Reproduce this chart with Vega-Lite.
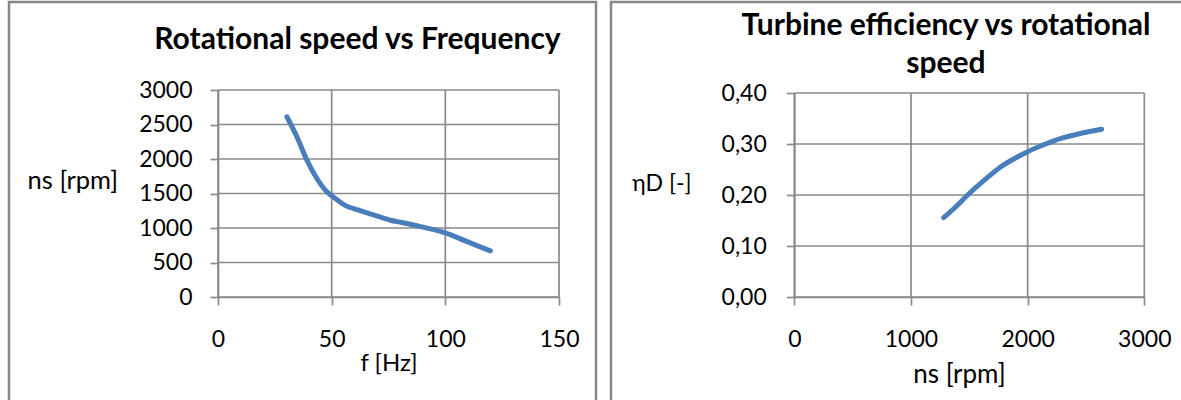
{
  "$schema": "https://vega.github.io/schema/vega-lite/v6.json",
  "padding": {"left": 7, "top": 0, "right": 0, "bottom": 0},
  "background": "white",
  "spacing": 11,
  "config": {
    "font": "Lato",
    "view": {"stroke": "#878787", "strokeWidth": 2.5, "fill": "white"},
    "axis": {
      "grid": false,
      "labelFlush": false,
      "labelOverlap": false,
      "labelFont": "Lato",
      "labelFontSize": 23,
      "labelColor": "#000000",
      "titleFont": "Lato",
      "titleFontSize": 25,
      "titleFontWeight": "normal",
      "titleColor": "#000000",
      "domainColor": "#8a8a8a",
      "domainWidth": 1.7,
      "tickColor": "#8a8a8a",
      "tickWidth": 1.7,
      "tickSize": 8
    },
    "title": {"font": "Lato", "fontSize": 30, "fontWeight": "bold", "color": "#000000"}
  },
  "hconcat": [
    {
      "width": 587,
      "height": 410,
      "title": {
        "text": "Rotational speed vs Frequency",
        "frame": "group",
        "anchor": "middle",
        "baseline": "alphabetic",
        "offset": -77,
        "dx": 55
      },
      "layer": [
        {
          "data": {"values": [{"f": 0}, {"f": 50}, {"f": 100}, {"f": 150}]},
          "mark": {"type": "rule", "color": "#8a8a8a", "strokeWidth": 1.7},
          "encoding": {
            "x": {
              "field": "f",
              "type": "quantitative",
              "scale": {"domain": [0, 150], "range": [209, 550], "nice": false},
              "axis": {
                "title": "f [Hz]",
                "titleFontSize": 24,
                "values": [0, 50, 100, 150],
                "format": "d",
                "offset": -115,
                "labelPadding": 23,
                "titlePadding": 0
              }
            },
            "y": {
              "datum": 0,
              "type": "quantitative",
              "scale": {"domain": [0, 3000], "range": [295, 88], "nice": false},
              "axis": {
                "title": "ns [rpm]",
                "titleFontSize": 25.5,
                "values": [0, 500, 1000, 1500, 2000, 2500, 3000],
                "format": "d",
                "offset": -209,
                "labelPadding": 18,
                "titleAngle": 0,
                "titleBaseline": "bottom",
                "titleAlign": "right",
                "titlePadding": 21
              }
            },
            "y2": {"datum": 3000}
          }
        },
        {
          "data": {"values": [{"ns": 0}, {"ns": 500}, {"ns": 1000}, {"ns": 1500}, {"ns": 2000}, {"ns": 2500}, {"ns": 3000}]},
          "mark": {"type": "rule", "color": "#8a8a8a", "strokeWidth": 1.7},
          "encoding": {
            "y": {"field": "ns", "type": "quantitative"},
            "x": {"datum": 0, "type": "quantitative"},
            "x2": {"datum": 150}
          }
        },
        {
          "data": {
            "values": [
              {"f": 30.3, "ns": 2612},
              {"f": 34.7, "ns": 2322},
              {"f": 39.1, "ns": 1984},
              {"f": 43.5, "ns": 1718},
              {"f": 47.9, "ns": 1524},
              {"f": 51.6, "ns": 1428},
              {"f": 55.7, "ns": 1331},
              {"f": 61.9, "ns": 1258},
              {"f": 67.7, "ns": 1196},
              {"f": 75.8, "ns": 1113},
              {"f": 80.9, "ns": 1080},
              {"f": 89.7, "ns": 1016},
              {"f": 100.0, "ns": 929},
              {"f": 108.8, "ns": 813},
              {"f": 119.8, "ns": 668}
            ]
          },
          "mark": {"type": "line", "color": "#4a7ebb", "strokeWidth": 5, "strokeCap": "round", "strokeJoin": "round", "interpolate": "monotone"},
          "encoding": {
            "x": {"field": "f", "type": "quantitative"},
            "y": {"field": "ns", "type": "quantitative"}
          }
        }
      ]
    },
    {
      "width": 580,
      "height": 410,
      "title": {
        "text": ["Turbine efficiency vs rotational", "speed"],
        "frame": "group",
        "anchor": "middle",
        "baseline": "alphabetic",
        "lineHeight": 38,
        "offset": -101,
        "dx": 45
      },
      "layer": [
        {
          "data": {"values": [{"ns": 0}, {"ns": 1000}, {"ns": 2000}, {"ns": 3000}]},
          "mark": {"type": "rule", "color": "#8a8a8a", "strokeWidth": 1.7},
          "encoding": {
            "x": {
              "field": "ns",
              "type": "quantitative",
              "scale": {"domain": [0, 3000], "range": [183.3, 533.3], "nice": false},
              "axis": {
                "title": "ns [rpm]",
                "titleFontSize": 26,
                "values": [0, 1000, 2000, 3000],
                "format": "d",
                "offset": -115,
                "labelPadding": 23,
                "titlePadding": 10,
                "titleX": 348
              }
            },
            "y": {
              "datum": 0,
              "type": "quantitative",
              "scale": {"domain": [0, 0.4], "range": [295, 91], "nice": false},
              "axis": {
                "title": "ηD [-]",
                "titleFontSize": 23,
                "values": [0, 0.1, 0.2, 0.3, 0.4],
                "labelExpr": "replace(format(datum.value, '.2f'), '.', ',')",
                "offset": -183.3,
                "labelPadding": 20,
                "titleAngle": 0,
                "titleBaseline": "bottom",
                "titleAlign": "right",
                "titlePadding": 30
              }
            },
            "y2": {"datum": 0.4}
          }
        },
        {
          "data": {"values": [{"eta": 0}, {"eta": 0.1}, {"eta": 0.2}, {"eta": 0.3}, {"eta": 0.4}]},
          "mark": {"type": "rule", "color": "#8a8a8a", "strokeWidth": 1.7},
          "encoding": {
            "y": {"field": "eta", "type": "quantitative"},
            "x": {"datum": 0, "type": "quantitative"},
            "x2": {"datum": 3000}
          }
        },
        {
          "data": {
            "values": [
              {"ns": 1280, "eta": 0.1555},
              {"ns": 1371, "eta": 0.174},
              {"ns": 1486, "eta": 0.2},
              {"ns": 1629, "eta": 0.229},
              {"ns": 1771, "eta": 0.2555},
              {"ns": 1915, "eta": 0.275},
              {"ns": 2000, "eta": 0.285},
              {"ns": 2143, "eta": 0.299},
              {"ns": 2286, "eta": 0.311},
              {"ns": 2457, "eta": 0.321},
              {"ns": 2634, "eta": 0.329}
            ]
          },
          "mark": {"type": "line", "color": "#4a7ebb", "strokeWidth": 5, "strokeCap": "round", "strokeJoin": "round", "interpolate": "monotone"},
          "encoding": {
            "x": {"field": "ns", "type": "quantitative"},
            "y": {"field": "eta", "type": "quantitative"}
          }
        }
      ]
    }
  ]
}
